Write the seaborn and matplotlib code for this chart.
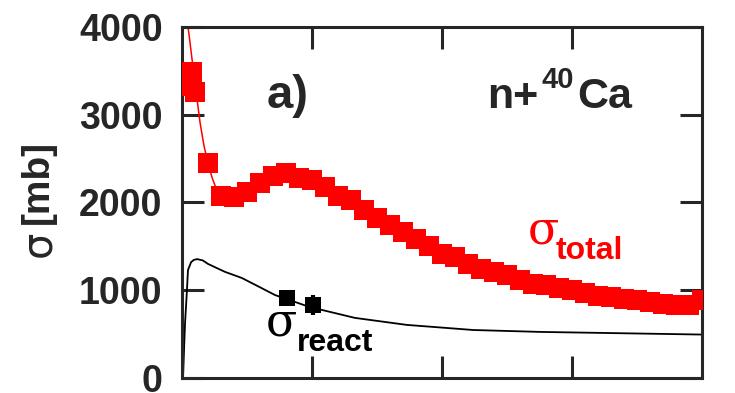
import matplotlib
matplotlib.use("Agg")
import matplotlib.pyplot as plt
import seaborn as sns
import pandas as pd

# Total cross section (mb) vs neutron energy (MeV)
energy_total = [0.08, 0.38, 0.5, 1.0,
                1.5, 2.0, 2.5, 3.0, 3.5, 4.0, 4.5, 5.0, 5.5, 6.0,
                6.5, 7.0, 7.5, 8.0, 8.5, 9.0, 9.5, 10.0, 10.5, 11.0,
                11.5, 12.0, 12.5, 13.0, 13.5, 14.0, 14.5, 15.0, 15.5, 16.0,
                16.5, 17.0, 17.5, 18.0, 18.5, 19.0, 19.5, 20.0]
sigma_total = [3330, 3490, 3260, 2450,
               2075, 2065, 2120, 2220, 2300, 2335, 2280, 2255, 2175, 2070,
               2030, 1915, 1820, 1740, 1665, 1585, 1505, 1415, 1380, 1300,
               1240, 1210, 1175, 1115, 1070, 1060, 1025, 1000, 970, 935,
               925, 900, 890, 865, 845, 830, 830, 890]

# Low-energy fit of the total cross section
fit_energy = [0.12, 0.25, 0.4, 0.55, 0.7, 0.85, 1.0, 1.15, 1.3, 1.45, 1.6]
fit_sigma = [4300, 3960, 3600, 3240, 2900, 2640, 2450, 2290, 2170, 2100, 2070]

# Calculated reaction cross section
react_energy = [0.04, 0.1, 0.12, 0.19, 0.23, 0.35, 0.45, 0.58, 0.8, 1.0,
                1.65, 2.3, 2.96, 3.58, 4.9, 6.65, 8.65, 11.2, 13.8, 16.3, 20.0]
react_sigma = [0, 500, 640, 1000, 1230, 1320, 1345, 1355, 1340, 1300,
               1210, 1140, 1040, 945, 810, 685, 605, 547, 525, 513, 495]

# Measured reaction cross sections
react_exp_energy = [4.04, 5.04]
react_exp_sigma = [910, 832]
react_exp_err = [0, 110]

y_ticks = [0, 1000, 2000, 3000, 4000]
x_ticks = [5, 10, 15]

sns.set_style("ticks")
plt.rcParams["font.family"] = ["Liberation Sans", "DejaVu Sans"]

W, H = 735, 393
fig = plt.figure(figsize=(W / 100, H / 100), dpi=100)
ax = fig.add_axes([182 / W, 15 / H, 520 / W, 351 / H])

df_tot = pd.DataFrame({"E": energy_total, "sigma": sigma_total})
df_fit = pd.DataFrame({"E": fit_energy, "sigma": fit_sigma})
df_react = pd.DataFrame({"E": react_energy, "sigma": react_sigma})
df_exp = pd.DataFrame({"E": react_exp_energy, "sigma": react_exp_sigma})

sns.lineplot(data=df_fit, x="E", y="sigma", ax=ax, color="#ff0000",
             linewidth=1.1, estimator=None, sort=False)
sns.scatterplot(data=df_tot, x="E", y="sigma", ax=ax, color="#ff0000",
                marker="s", s=205, linewidth=0, zorder=3)
sns.lineplot(data=df_react, x="E", y="sigma", ax=ax, color="black",
             linewidth=1.3, estimator=None, sort=False)
ax.errorbar(react_exp_energy, react_exp_sigma, yerr=react_exp_err, fmt="none",
            ecolor="black", elinewidth=3, capsize=0, zorder=4)
sns.scatterplot(data=df_exp, x="E", y="sigma", ax=ax, color="black",
                marker="s", s=140, linewidth=0, zorder=5)

ax.set_xlim(0, 20)
ax.set_ylim(0, 4000)
ax.set_xticks(x_ticks)
ax.set_xticklabels([])
ax.set_yticks(y_ticks)
ax.set_yticklabels([str(v) for v in y_ticks], fontsize=27, fontweight="bold")
ax.set_xlabel("")
ax.set_ylabel("")

for side in ["left", "right", "top", "bottom"]:
    ax.spines[side].set_visible(True)
    ax.spines[side].set_linewidth(2.2)
ax.tick_params(axis="both", which="major", direction="in", length=16,
               width=2.2, top=True, right=True, pad=14)


def ftext(x, y, s, **kw):
    fig.text(x / W, 1 - y / H, s, **kw)


# y-axis title: regular sigma, bold unit
ftext(38, 244, "σ", fontsize=30, family="DejaVu Sans", rotation=90,
      ha="center", va="center")
ftext(38, 182, "[mb]", fontsize=28, fontweight="bold", rotation=90,
      ha="center", va="center")

ftext(288, 108, "a)", fontsize=34, fontweight="bold", ha="center", va="baseline")
ftext(487, 108, "n+", fontsize=31, fontweight="bold", ha="left", va="baseline")
ftext(541, 88, "40", fontsize=21, fontweight="bold", ha="left", va="baseline")
ftext(577, 108, "Ca", fontsize=31, fontweight="bold", ha="left", va="baseline")

ftext(528, 243, "σ", fontsize=33, family="DejaVu Serif", color="#ff0000",
      ha="left", va="baseline")
ftext(556, 259, "total", fontsize=23, fontweight="bold", color="#ff0000",
      ha="left", va="baseline")
ftext(266, 336, "σ", fontsize=33, family="DejaVu Serif", color="black",
      ha="left", va="baseline")
ftext(297, 351, "react", fontsize=23, fontweight="bold", color="black",
      ha="left", va="baseline")

fig.savefig("out.png", dpi=100)
